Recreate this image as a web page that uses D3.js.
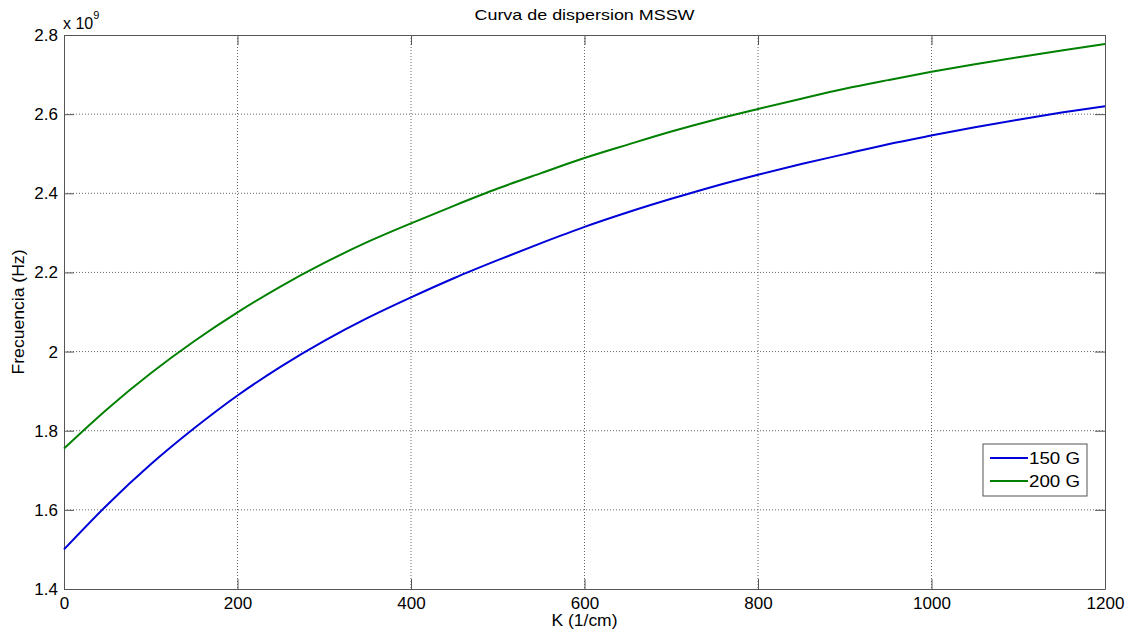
<!DOCTYPE html>
<html>
<head>
<meta charset="utf-8">
<script src="https://cdn.jsdelivr.net/npm/d3@7"></script>
<style>
  body { margin: 0; background: #fff; }
  text { font-family: "Liberation Sans", Arial, sans-serif; fill: #000; }
</style>
</head>
<body>
<svg></svg>
<script>
// Chart size
var width = 1130,
    height = 633

// Data (frequency in units of 1e9 Hz)
var kValues = [0, 50, 100, 150, 200, 250, 300, 350, 400, 450, 500, 550, 600,
               650, 700, 750, 800, 850, 900, 950, 1000, 1050, 1100, 1150, 1200]
var f150 = [1.500, 1.613, 1.715, 1.806, 1.889, 1.962, 2.027, 2.085, 2.137, 2.186, 2.231, 2.274, 2.315,
            2.352, 2.386, 2.418, 2.447, 2.474, 2.499, 2.524, 2.546, 2.567, 2.586, 2.604, 2.620]
var f200 = [1.755, 1.855, 1.945, 2.026, 2.099, 2.165, 2.224, 2.277, 2.324, 2.369, 2.412, 2.451, 2.489,
            2.523, 2.556, 2.586, 2.613, 2.639, 2.664, 2.686, 2.707, 2.726, 2.744, 2.761, 2.777]
var seriesNames = ["150 G", "200 G"]
var seriesColors = ["#0000d8", "#008000"]
var xTicks = [0, 200, 400, 600, 800, 1000, 1200]
var yTicks = [1.4, 1.6, 1.8, 2, 2.2, 2.4, 2.6, 2.8]

var margin = {left: 64, right: 25, top: 35, bottom: 44}

var svg = d3.select("svg")
    .attr("width", width)
    .attr("height", height)

var x = d3.scaleLinear()
    .domain([0, 1200])
    .range([margin.left, width - margin.right])

var y = d3.scaleLinear()
    .domain([1.4, 2.8])
    .range([height - margin.bottom, margin.top])

var x0 = x.range()[0], x1 = x.range()[1],
    y0 = y.range()[0], y1 = y.range()[1]

// Dotted grid
svg.append("g")
    .selectAll("line")
    .data(xTicks.slice(1, -1))
    .enter().append("line")
    .attr("x1", d => x(d)).attr("x2", d => x(d))
    .attr("y1", y1).attr("y2", y0)
    .style("stroke", "#666")
    .style("stroke-dasharray", "1,2")

svg.append("g")
    .selectAll("line")
    .data(yTicks.slice(1, -1))
    .enter().append("line")
    .attr("y1", d => y(d)).attr("y2", d => y(d))
    .attr("x1", x0).attr("x2", x1)
    .style("stroke", "#666")
    .style("stroke-dasharray", "1,2")

// Axes with inward ticks, on all four sides (box on)
var tick = 10
svg.append("g")
    .attr("transform", "translate(0," + y0 + ")")
    .call(d3.axisBottom(x).tickValues(xTicks).tickSizeInner(-tick).tickSizeOuter(0).tickPadding(8).tickFormat(d3.format("d")))
svg.append("g")
    .attr("transform", "translate(0," + y1 + ")")
    .call(d3.axisTop(x).tickValues(xTicks).tickSizeInner(-tick).tickSizeOuter(0).tickFormat(""))
svg.append("g")
    .attr("transform", "translate(" + x0 + ",0)")
    .call(d3.axisLeft(y).tickValues(yTicks).tickSizeInner(-tick).tickSizeOuter(0).tickPadding(6).tickFormat(d3.format("~g")))
svg.append("g")
    .attr("transform", "translate(" + x1 + ",0)")
    .call(d3.axisRight(y).tickValues(yTicks).tickSizeInner(-tick).tickSizeOuter(0).tickFormat(""))

svg.selectAll(".domain, .tick line")
    .style("stroke", "#555")
svg.selectAll(".tick text")
    .style("font-size", "17px")
    .style("font-family", "Liberation Sans, Arial, sans-serif")
    .style("fill", "#000")

// Curves
var line = d3.line()
    .x((d, i) => x(kValues[i]))
    .y(d => y(d))
    .curve(d3.curveMonotoneX)

;[f150, f200].forEach(function(s, i) {
    svg.append("path")
        .datum(s)
        .attr("d", line)
        .style("fill", "none")
        .style("stroke", seriesColors[i])
        .style("stroke-width", 2)
})

// Exponent label
var expo = svg.append("text")
    .attr("x", x0 - 1)
    .attr("y", 29)
    .style("font-size", "16px")
expo.append("tspan").text("x 10")
expo.append("tspan").attr("dy", -10).style("font-size", "11px").text("9")

// Title and axis labels (the reference text is a little wide, so stretch it)
svg.append("text")
    .attr("x", (x0 + x1) / 2)
    .attr("y", 20)
    .attr("text-anchor", "middle")
    .attr("textLength", 220)
    .attr("lengthAdjust", "spacingAndGlyphs")
    .style("font-size", "15px")
    .text("Curva de dispersion MSSW")

svg.append("text")
    .attr("x", (x0 + x1) / 2)
    .attr("y", 626)
    .attr("text-anchor", "middle")
    .attr("textLength", 66)
    .attr("lengthAdjust", "spacingAndGlyphs")
    .style("font-size", "16px")
    .text("K (1/cm)")

svg.append("text")
    .attr("transform", "translate(24," + ((y0 + y1) / 2) + ") rotate(-90)")
    .attr("text-anchor", "middle")
    .attr("textLength", 125)
    .attr("lengthAdjust", "spacingAndGlyphs")
    .style("font-size", "16px")
    .text("Frecuencia (Hz)")

// Legend
var legend = svg.append("g")
    .attr("transform", "translate(983,444)")
legend.append("rect")
    .attr("width", 104).attr("height", 52)
    .style("fill", "#fff")
    .style("stroke", "#555")

var row = legend.selectAll("g.row")
    .data(seriesNames)
    .enter().append("g")
    .attr("class", "row")
    .attr("transform", (d, i) => "translate(0," + (14 + i * 23) + ")")
row.append("line")
    .attr("x1", 7).attr("x2", 45)
    .style("stroke", (d, i) => seriesColors[i])
    .style("stroke-width", 2)
row.append("text")
    .attr("x", 46)
    .attr("dy", "0.35em")
    .attr("textLength", 51)
    .attr("lengthAdjust", "spacingAndGlyphs")
    .style("font-size", "16px")
    .text(d => d)
</script>
</body>
</html>
